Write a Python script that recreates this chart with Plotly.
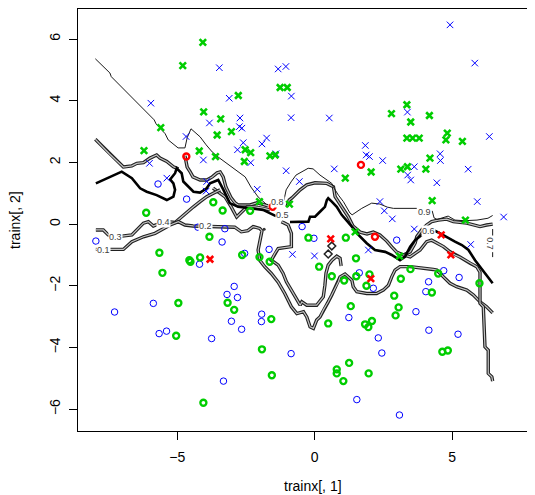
import plotly.graph_objects as go

# ---- points (trainx[,1], trainx[,2]) grouped by marker style ----
blue_x_x = [-3.47,-5.96,-3.83,-4.68,-1.33,-1.05,-0.85,-3.11,-2.72,-0.86,0.53,-2.74,-2.65,-2.60,-1.92,-1.75,1.84,4.92,5.82,3.37,6.35,-6.01,-4.05,-5.38,-3.93,-3.95,-2.81,-2.33,-1.41,-1.04,1.87,0.71,-0.56,-2.09,-0.81,-0.01,1.99,2.47,3.38,3.49,3.62,4.56,4.57,5.58,4.44,5.91,2.37,2.53,2.82,6.87,3.62,5.67,1.95,7.85]
blue_x_y = [5.07,3.92,3.28,2.84,5.03,5.11,4.15,4.08,3.44,3.45,3.44,3.16,3.11,2.64,2.60,2.79,2.55,6.46,5.22,3.63,2.84,1.97,2.08,1.49,1.38,1.07,2.41,1.99,2.28,1.73,2.24,1.79,1.38,1.13,-0.98,-1.03,2.19,2.06,1.59,1.43,1.86,2.28,2.06,1.78,1.34,0.73,0.73,0.43,0.17,0.23,-0.16,-0.66,-0.84,-1.76]

green_x_x = [-4.07,-4.80,-4.04,-3.42,-3.55,-5.60,-6.21,-4.20,-3.61,-1.26,-1.00,-2.78,-3.03,-2.53,-2.33,-2.56,-1.63,-1.44,3.35,2.79,4.17,3.49,3.35,3.56,3.80,4.82,4.77,5.37,1.11,-2.01,-0.92,2.05,3.13,3.37,4.04,4.19,4.27,5.48,3.08,1.47]
green_x_y = [5.89,5.14,3.64,3.41,2.89,3.13,2.38,2.37,2.19,4.43,4.43,4.17,3.00,2.41,2.32,2.03,2.21,2.24,3.87,3.58,3.52,3.31,2.79,2.79,2.79,2.95,2.73,2.68,1.49,0.73,0.65,1.69,1.78,1.86,1.78,2.14,0.76,0.13,-1.04,-0.25]

green_o_x = [-3.69,-6.13,-3.83,-5.65,-4.56,-4.52,-4.17,-5.54,-3.35,-2.35,-0.23,1.13,-2.64,-2.01,-1.64,0.16,1.50,0.62,1.07,1.51,1.88,3.48,3.13,4.49,5.99,1.99,-4.96,-5.04,-4.05,-3.17,-2.93,-1.58,-1.92,-1.56,0.49,1.31,1.83,1.95,2.08,1.25,0.80,0.80,1.04,1.96,4.26,2.89,3.05,2.94,4.64,4.84]
green_o_y = [0.71,0.37,-0.41,-0.93,-1.17,-1.22,-1.08,-1.58,0.44,0.43,-0.44,-0.44,-1.00,-1.07,-1.22,-1.38,-1.11,-1.69,-1.83,-1.69,-2.00,-1.46,-1.77,-1.60,-1.92,-1.63,-2.56,-3.62,-5.79,-2.55,-2.78,-3.08,-4.06,-4.90,-3.22,-2.66,-3.25,-3.34,-3.14,-4.50,-4.71,-4.84,-5.09,-4.84,-2.22,-2.32,-2.70,-2.96,-4.14,-4.10]

blue_o_x = [-5.70,-4.66,-4.25,-7.96,-3.37,-4.19,-3.27,-0.46,-0.03,-1.66,-2.55,-2.93,1.62,2.98,4.69,5.25,4.14,-7.28,-5.87,-5.66,-5.39,-3.75,-3.19,-2.81,-3.03,-2.66,-1.93,-1.94,-0.86,-3.32,1.24,1.53,2.13,4.04,3.68,4.15,5.21,2.31,2.44,3.08]
blue_o_y = [1.30,0.81,-0.10,-0.55,-0.58,-1.30,-0.15,-0.08,-0.46,-0.82,-0.95,-2.02,-1.58,-0.52,-1.51,-1.73,-1.87,-2.85,-2.57,-3.55,-3.47,-3.71,-2.28,-2.38,-3.15,-3.41,-2.92,-3.16,-4.20,-5.09,-3.03,-5.69,-2.08,-2.19,-2.84,-3.44,-3.57,-3.69,-4.18,-6.19]

red_o_x = [-4.67,-1.53,1.68,2.19]
red_o_y = [2.19,0.56,1.92,-0.41]
red_x_x = [-3.81,0.58,4.60,4.95,2.04]
red_x_y = [-1.14,-0.48,-0.35,-1.00,-1.77]

# ---- contour lines ----
thin_a_x = [-7.98,-7.45,-7.40,-5.84,-5.77,-5.44,-5.33,-4.97,-4.72,-4.64,-4.50,-4.17,-3.95,-3.73,-3.52,-2.79,-2.53,-2.32,-2.06,-1.77]
thin_a_y = [5.36,4.90,4.78,3.38,3.25,2.93,2.73,2.47,2.47,2.80,3.09,2.83,2.57,2.34,2.18,1.72,1.53,1.20,0.88,0.65]
thin_b_x = [-1.12,-1.04,-0.86,-0.68,-0.24,-0.06,0.19,0.62,0.68,0.86,1.04,1.28,1.36,1.71,2.07,2.37,2.64,2.86,3.71]
thin_b_y = [0.77,1.11,1.37,1.59,1.81,1.79,1.59,1.32,1.20,0.94,0.73,0.36,0.30,0.51,0.68,0.65,0.55,0.51,0.51]
thin_c_x = [4.27,4.34,4.45,4.85,5.10,5.43,5.90,6.30,6.47]
thin_c_y = [0.43,0.20,0.15,0.26,0.13,0.11,0.13,0.19,0.28]
thin_d_x = [6.47,6.47,None,6.47,6.47]
thin_d_y = [-0.16,-0.37,None,-0.91,-1.07]

thick_a_x = [-7.96,-7.69,-7.32,-7.02,-6.65,-6.35,-6.11,-5.75,-5.38,-5.14,-5.08,-5.14,-5.26,-5.08,-5.02,-4.84,-4.78,-4.60,-4.41,-4.17,-3.93,-3.81,-3.51,-3.32,-3.09,-2.79,-2.31,-1.88,-1.58,-1.41]
thick_a_y = [1.32,1.43,1.59,1.70,1.49,1.16,1.05,0.94,0.78,0.89,1.11,1.32,1.45,1.65,1.81,1.65,1.38,1.21,1.05,1.02,1.16,1.32,1.43,1.11,0.68,0.56,0.51,0.46,0.33,0.26]
thick_b_x = [-0.90,-0.53,-0.23,-0.17,0.01,0.19,0.37,0.44,0.49,0.62,0.80,0.98,1.16,1.35,1.59,1.89,2.19,2.56,2.80,2.98,3.10,3.28,3.47,3.65,3.89,4.13,4.31,4.56,4.86,5.10,5.35,5.59,5.83,6.01,6.25,6.47]
thick_b_y = [0.07,0.08,0.08,0.24,0.24,0.40,0.56,0.78,0.84,0.73,0.56,0.30,0.13,-0.08,-0.35,-0.62,-0.84,-0.90,-1.00,-1.11,-1.17,-1.06,-0.73,-0.52,-0.35,-0.25,-0.19,-0.30,-0.46,-0.57,-0.68,-0.84,-1.17,-1.38,-1.65,-1.92]

dbl1_x = [-7.98,-7.48,-6.96,-6.65,-6.47,-6.23,-5.99,-5.75,-5.63,-5.38,-5.14,-4.96]
dbl1_y = [2.75,2.29,1.85,1.89,1.97,1.99,2.14,2.24,2.14,2.03,1.86,1.79]
dbl2_x = [-4.72,-4.64,-4.53,-4.43,-4.17,-3.92,-3.73,-3.55,-3.44,-3.33,-3.23,-3.04,-2.90,-2.79,-2.35,-2.10,-1.92,-1.70]
dbl2_y = [2.21,1.85,1.69,1.53,1.43,1.43,1.53,1.66,1.69,1.53,1.20,0.85,0.69,0.62,0.62,0.69,0.65,0.59]
dbl3_x = [-3.70,-3.26,-3.04,-2.84,-2.66,-2.46,-2.17,-1.88,-1.63]
dbl3_y = [1.17,0.88,0.56,0.23,0.39,0.56,0.56,0.52,0.46]
dbl4_x = [-7.96,-7.69,-7.51,-7.01,-6.65,-6.47,-6.23,-6.05,-5.87,-5.70,-5.26,-5.08,-4.90,-4.65,-4.41,-4.17,-3.93,-3.69,-3.44]
dbl4_y = [-0.19,-0.19,-0.35,-0.39,-0.35,-0.19,0.03,0.08,-0.06,0.00,0.07,0.05,0.19,0.40,0.56,0.73,0.89,1.00,1.11]
dbl5_x = [-7.96,-6.96,-6.65,-6.23,-5.81,-5.51,-5.26,-4.96,-4.72,-4.43,-3.76,-2.91,-2.67,-2.43,-2.24,-2.00,-1.92,-2.00,-2.06,-2.00,-1.82,-1.58,-1.33,-1.09,-0.85,-0.65,-0.41,-0.29,-0.17,-0.05,0.07,0.19,0.31,0.49,0.62,0.74,0.86,0.92,1.10,1.22,1.35,1.40,1.53,1.89,2.25,2.49,2.68,2.80,2.92,3.10,3.47,4.31,4.44,4.68,4.92,5.16,5.53,5.77,6.01,6.25,6.47]
dbl5_y = [-0.82,-0.82,-0.57,-0.41,-0.30,-0.14,-0.03,0.08,-0.03,-0.06,-0.08,-0.10,-0.25,-0.21,-0.08,-0.14,-0.22,-0.52,-0.84,-1.17,-1.38,-1.60,-1.88,-2.25,-2.68,-2.90,-2.84,-3.01,-3.33,-3.38,-3.11,-3.01,-2.79,-2.52,-2.30,-2.08,-1.87,-1.71,-1.62,-1.71,-1.82,-2.03,-2.19,-2.25,-2.25,-2.14,-1.98,-1.71,-1.49,-1.38,-1.38,-1.47,-1.49,-1.71,-1.92,-2.03,-2.14,-2.30,-2.52,-2.68,-2.88]
dbl6_x = [-1.21,-0.97,-0.85,-0.85,-1.33,-1.45,-1.58,-1.33,-1.15,-1.03,-0.85,-0.65,-0.53,-0.47,-0.29,0.07,0.31,0.37,0.41,0.49,0.63,0.80,0.92,0.96]
dbl6_y = [0.08,-0.03,-0.30,-0.73,-0.79,-0.95,-1.17,-1.33,-1.60,-1.87,-2.14,-2.46,-2.63,-2.52,-2.63,-2.63,-2.36,-1.98,-1.59,-1.33,-1.17,-1.04,-1.11,-1.36]
dbl7_x = [-1.01,-0.93,-0.83,-0.64,-0.53,-0.29,0.01,0.44,0.68,0.74,0.98,1.22,1.39,1.65,1.90,2.13,2.37,2.62,2.80,2.98,3.22,3.47,3.65,3.71,3.89,4.07,4.25,4.49,4.80,5.04,5.53,5.77,6.01,6.25,6.47]
dbl7_y = [0.56,0.78,0.85,1.01,1.11,1.27,1.34,1.32,1.21,0.89,0.56,0.24,-0.06,-0.26,-0.32,-0.26,-0.35,-0.55,-0.74,-0.91,-1.00,-0.90,-0.62,-0.41,-0.19,-0.03,0.08,0.13,0.16,0.08,0.03,-0.03,-0.08,-0.03,0.00]
dbl8_x = [3.22,3.47,3.83,4.07,4.25,4.44,4.68,4.92,5.10,5.28,5.65,5.89,6.01,6.01,6.13,6.19,6.31,6.31,6.44,6.47]
dbl8_y = [-1.00,-1.06,-0.84,-0.57,-0.52,-0.62,-0.73,-0.90,-1.00,-1.07,-1.27,-1.38,-1.56,-2.57,-2.68,-3.98,-4.09,-4.84,-4.95,-5.09]

loop_x = [0.62,0.49]
loop_y = [-0.71,-0.97]
dot_x = [-1.84]
dot_y = [-0.17]

label_text = ["0.1","0.3","0.4","0.2","0.8","0.5","0.9","0.6","0.7"]
label_x = [-7.69,-7.26,-5.51,-3.99,-1.37,-1.16,3.99,4.12,6.37]
label_y = [-0.84,-0.41,0.08,-0.06,0.72,0.30,0.39,-0.22,-0.65]
label_angle = [0,0,0,0,0,0,0,0,90]

x_ticks = [-5, 0, 5]
y_ticks = [-6, -4, -2, 0, 2, 4, 6]

BLUE = "#0000FF"
GREEN = "#00CD00"
RED = "#FF0000"
FONT = "Liberation Sans, Arial, sans-serif"

fig = go.Figure()

def line(xs, ys, color, width):
    fig.add_trace(go.Scatter(x=xs, y=ys, mode="lines", line=dict(color=color, width=width),
                             hoverinfo="skip", showlegend=False, connectgaps=False))

for xs, ys in [(dbl1_x, dbl1_y), (dbl2_x, dbl2_y), (dbl3_x, dbl3_y), (dbl4_x, dbl4_y),
               (dbl5_x, dbl5_y), (dbl6_x, dbl6_y), (dbl7_x, dbl7_y), (dbl8_x, dbl8_y)]:
    line(xs, ys, "#202020", 3.4)
    line(xs, ys, "#c4c4c4", 1.2)
line(thick_a_x, thick_a_y, "#000000", 2.6)
line(thick_b_x, thick_b_y, "#000000", 2.6)
for xs, ys in [(thin_a_x, thin_a_y), (thin_b_x, thin_b_y), (thin_c_x, thin_c_y), (thin_d_x, thin_d_y)]:
    line(xs, ys, "#1a1a1a", 1)

fig.add_trace(go.Scatter(x=loop_x, y=loop_y, mode="markers", hoverinfo="skip", showlegend=False,
                         marker=dict(symbol="diamond-open", size=6, color="#222", line=dict(width=1.5))))
fig.add_trace(go.Scatter(x=dot_x, y=dot_y, mode="markers", hoverinfo="skip", showlegend=False,
                         marker=dict(symbol="circle", size=3, color="#333")))

def pts(xs, ys, sym, color, lw, size):
    fig.add_trace(go.Scatter(x=xs, y=ys, mode="markers", hoverinfo="skip", showlegend=False,
                             marker=dict(symbol=sym, size=size, color=color,
                                         line=dict(color=color, width=lw))))

pts(blue_o_x, blue_o_y, "circle-open", BLUE, 1, 6.5)
pts(blue_x_x, blue_x_y, "x-thin-open", BLUE, 1, 6.5)
pts(green_o_x, green_o_y, "circle-open", GREEN, 2.4, 6)
pts(green_x_x, green_x_y, "x-thin-open", GREEN, 2.6, 6.5)
pts(red_o_x, red_o_y, "circle-open", RED, 2.4, 6)
pts(red_x_x, red_x_y, "x-thin-open", RED, 2.6, 6.5)

for t, x, y, a in zip(label_text, label_x, label_y, label_angle):
    fig.add_annotation(x=x, y=y, text=t, showarrow=False, textangle=a,
                       font=dict(family=FONT, size=9, color="#404040"),
                       bgcolor="white", borderpad=0)

fig.add_annotation(xref="paper", yref="paper", x=0.514, y=-0.131, text="trainx[, 1]",
                   showarrow=False, xanchor="center", yanchor="middle",
                   font=dict(family=FONT, size=14, color="black"))
fig.add_annotation(xref="paper", yref="paper", x=-0.138, y=0.5, text="trainx[, 2]", textangle=-90,
                   showarrow=False, xanchor="center", yanchor="middle",
                   font=dict(family=FONT, size=14, color="black"))

axis_common = dict(showgrid=False, zeroline=False, showline=True, linecolor="black", linewidth=1,
                   ticks="outside", ticklen=8, tickcolor="black", tickwidth=1, automargin=False,
                   tickfont=dict(family=FONT, size=14, color="black"))
fig.update_xaxes(range=[-8.61, 8.01], tickvals=x_ticks, mirror=True, ticklabelstandoff=5, **axis_common)
fig.update_yaxes(range=[-6.708, 6.974], tickvals=y_ticks, tickangle=-90, ticklabelstandoff=3, **axis_common)

fig.update_layout(width=527, height=487, margin=dict(l=70, r=0, t=1, b=64),
                  plot_bgcolor="white", paper_bgcolor="white", showlegend=False)

fig.write_html("out.html")
